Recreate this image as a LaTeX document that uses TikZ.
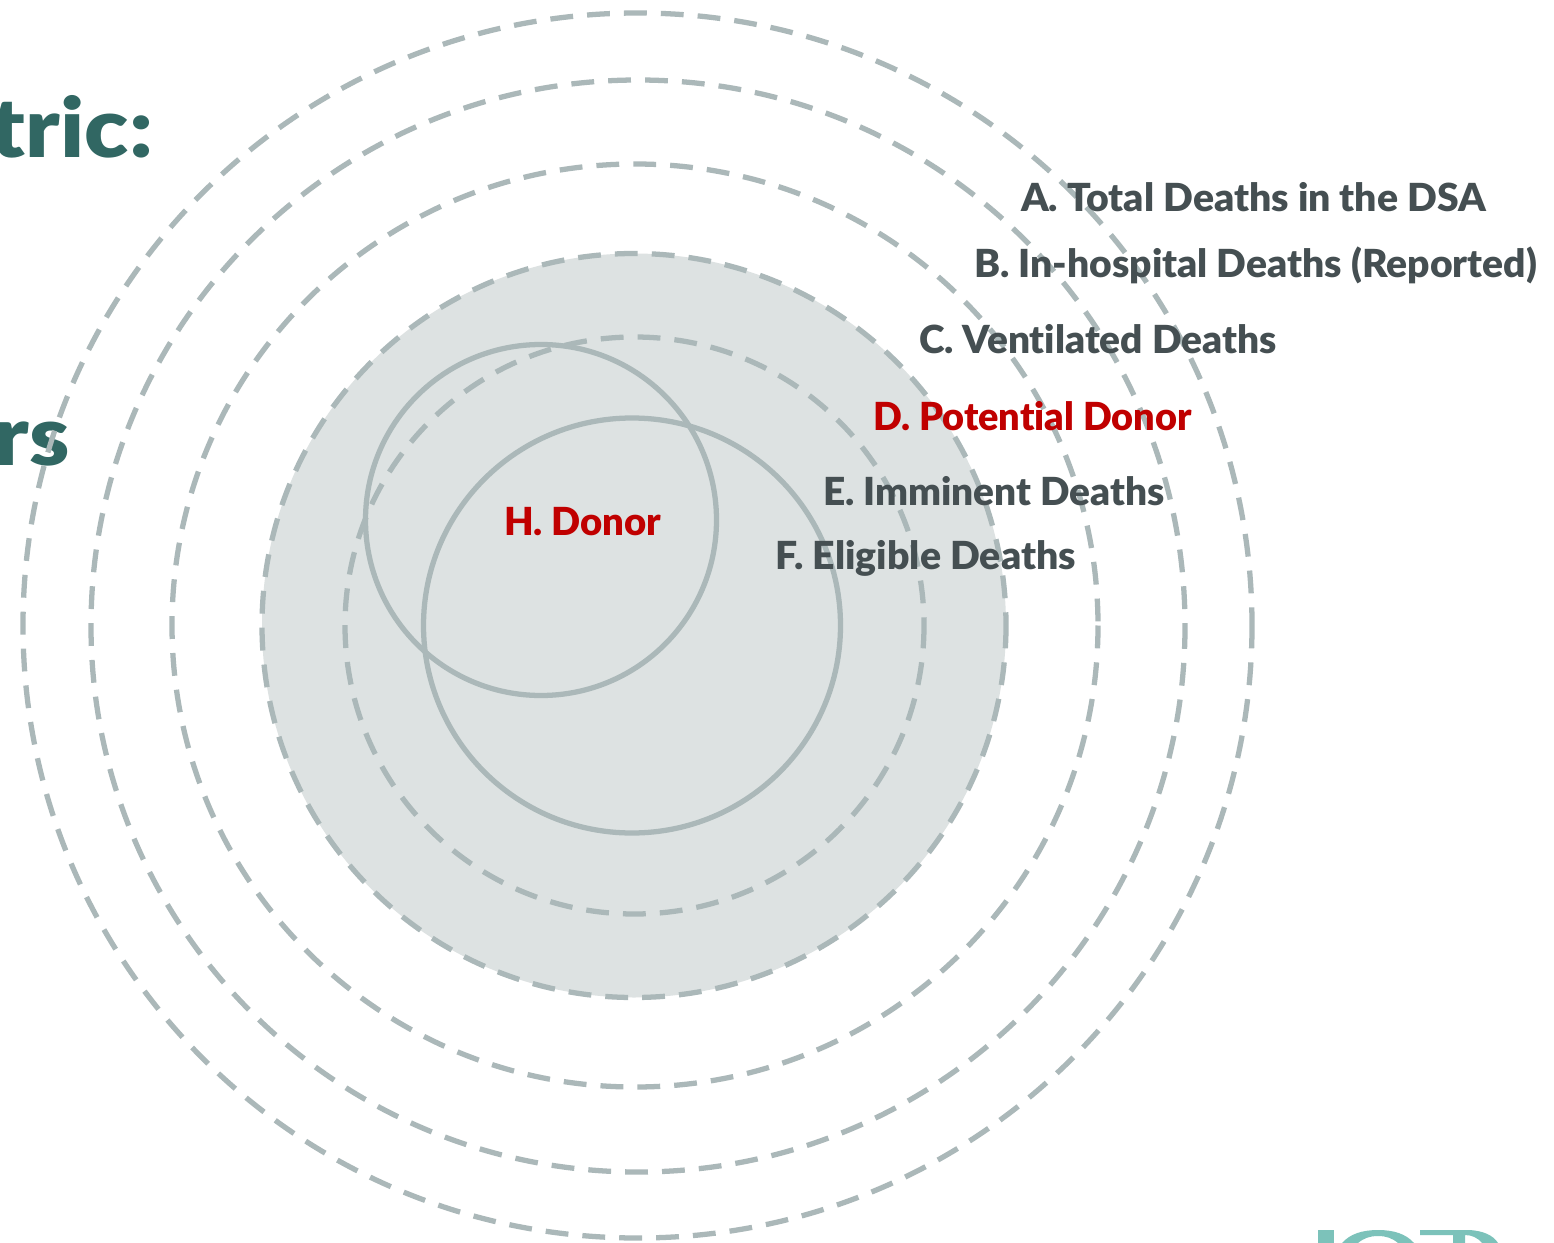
\documentclass[tikz,border=0pt]{standalone}
\usepackage{graphicx}
\usepackage{fontspec}
\setmainfont{Lato}[UprightFont=* Black,BoldFont=* Black,Ligatures=NoCommon]
\definecolor{ringc}{HTML}{ABB8B9}
\definecolor{discc}{HTML}{DDE2E2}
\definecolor{labelc}{HTML}{454F52}
\definecolor{redc}{HTML}{C00000}
\definecolor{titlec}{HTML}{316763}
\definecolor{logoc}{HTML}{7CC2BA}
\newlength{\fitlen}
\newcommand{\fitw}[2]{\settowidth{\fitlen}{#2}\pgfmathsetmacro{\fitr}{#1*0.56693/(\fitlen/1pt)}\scalebox{\fitr}[1]{#2}}
\tikzset{
  ring/.style={draw=ringc,line width=3pt,dash pattern=on 13pt off 8pt},
  solidring/.style={draw=ringc,line width=3pt},
  deathlabel/.style={anchor=base west,inner sep=0pt,outer sep=0pt,text=labelc,font=\fontsize{22}{24}\selectfont},
  redlabel/.style={deathlabel,text=redc},
  headlabel/.style={anchor=base east,inner sep=0pt,outer sep=0pt,text=titlec,font=\fontsize{47}{50}\bfseries\selectfont}
}
\begin{document}
\begin{tikzpicture}[x=0.02cm,y=-0.02cm]
\useasboundingbox (0,0) rectangle (1554,1243);
\fill[white] (0,0) rectangle (1554,1243);
% headings
\node[headlabel] (h1) at (153,158) {\scalebox{1.1}[1]{tric:}};
\node[headlabel] (h2) at (70,465) {\scalebox{1.1}[1]{rs}};
% rings
\draw[ring] (637.5,625.5) ellipse [x radius=614.5,y radius=612.5];
\draw[ring] (638,626) ellipse [x radius=547,y radius=546];
\draw[ring] (635,625.5) ellipse [x radius=463,y radius=461.5];
\fill[discc] (634,625.5) circle [radius=372];
\draw[ring] (634,625.5) circle [radius=372];
\draw[ring] (634.5,625.5) ellipse [x radius=289.5,y radius=288.5];
\draw[solidring] (541,520) circle [radius=175.5];
\draw[solidring] (632,625.5) ellipse [x radius=208.5,y radius=207.5];
% labels
\node[deathlabel] (a) at (1021,212) {\fitw{467}{A. Total Deaths in the DSA}};
\node[deathlabel] (b) at (974,278) {\fitw{565}{B. In-hospital Deaths (Reported)}};
\node[deathlabel] (c) at (919,354) {\fitw{359}{C. Ventilated Deaths}};
\node[redlabel] (d) at (873,430) {\fitw{320}{D. Potential Donor}};
\node[deathlabel] (e) at (823,505) {\fitw{343}{E. Imminent Deaths}};
\node[deathlabel] (f) at (775,569) {\fitw{302}{F. Eligible Deaths}};
\node[redlabel] (h) at (504,535) {\fitw{158}{H. Donor}};
% logo fragment
\fill[logoc] (1318,1230) rectangle (1334,1243);
\fill[logoc] (1342,1243) .. controls (1350,1234) and (1362,1230) .. (1378,1230) .. controls (1394,1230) and (1406,1234) .. (1414,1243) -- (1398,1243) .. controls (1392,1238) and (1386,1236) .. (1378,1236) .. controls (1370,1236) and (1364,1238) .. (1358,1243) -- cycle;
\fill[logoc] (1420,1230) -- (1470,1230) .. controls (1483,1231) and (1493,1235) .. (1498,1243) -- (1482,1243) .. controls (1478,1238) and (1472,1235) .. (1465,1235) -- (1465,1243) -- (1453,1243) -- (1453,1235) -- (1420,1235) -- cycle;
\end{tikzpicture}
\end{document}
